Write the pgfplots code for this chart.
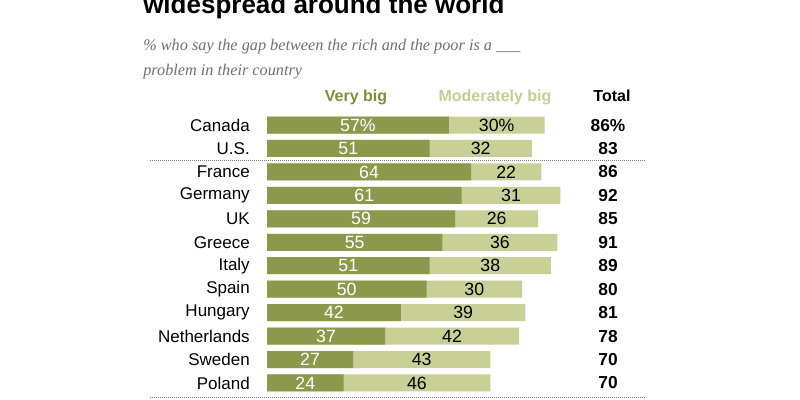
\documentclass[border=0pt]{standalone}
\usepackage{pgfplots}
\pgfplotsset{compat=1.18}
\usepackage{pgfplotstable}
\usepackage{fontspec}
\setmainfont{Liberation Sans}
\newfontfamily\serifit{Liberation Serif}
\definecolor{darkg}{RGB}{140,152,76}
\definecolor{lightg}{RGB}{200,208,152}
\definecolor{hdark}{RGB}{128,142,58}
\definecolor{hlight}{RGB}{196,206,150}
\definecolor{subgray}{RGB}{112,112,112}

\pgfplotstableread{
row vb mb total
0 57 30 86
1 51 32 83
2 64 22 86
3 61 31 92
4 59 26 85
5 55 36 91
6 51 38 89
7 50 30 80
8 42 39 81
9 37 42 78
10 27 43 70
11 24 46 70
}\datatable

\begin{document}
\begin{tikzpicture}
\useasboundingbox (0,0) rectangle (600pt,-300pt);
\clip (0,0) rectangle (600pt,-300pt);
\node[anchor=base west, inner sep=0pt, font=\bfseries\fontsize{19.5}{22}\selectfont] at (107.25pt,-9.75pt) {widespread around the world};
\node[anchor=base west, inner sep=0pt, text=subgray, font=\serifit\itshape\fontsize{12.2}{14}\selectfont] at (107.25pt,-37.5pt) {\% who say the gap between the rich and the poor is a \_\_\_};
\node[anchor=base west, inner sep=0pt, text=subgray, font=\serifit\itshape\fontsize{12.2}{14}\selectfont] at (107.25pt,-56.25pt) {problem in their country};

\node[anchor=base, inner sep=0pt, text=hdark, font=\bfseries\fontsize{12}{14}\selectfont] at (267pt,-75.75pt) {Very big};
\node[anchor=base, inner sep=0pt, text=hlight, font=\bfseries\fontsize{12}{14}\selectfont] at (371.25pt,-75.75pt) {Moderately big};
\node[anchor=base, inner sep=0pt, text=black, font=\bfseries\fontsize{12}{14}\selectfont] at (459pt,-75.75pt) {Total};

\draw[gray, line width=0.6pt, dash pattern=on 0.6pt off 0.9pt] (112.5pt,-120pt) -- (483.75pt,-120pt);
\draw[gray, line width=0.6pt, dash pattern=on 0.6pt off 0.9pt] (112.5pt,-297.75pt) -- (483.75pt,-297.75pt);

\begin{axis}[
  at={(200.25pt,-84.98pt)}, anchor=north west,
  scale only axis, width=239.25pt, height=211.05pt,
  xmin=0, xmax=100, ymin=-0.5, ymax=11.5, y dir=reverse,
  axis line style={draw=none}, xtick=\empty,
  ytick={0,...,11},
  yticklabels={Canada,U.S.,France,Germany,UK,Greece,Italy,Spain,Hungary,Netherlands,Sweden,Poland},
  major tick length=0pt,
  yticklabel style={font=\fontsize{12.75}{14}\selectfont, inner sep=0pt, anchor=east, xshift=-12.75pt},
  /pgf/number format/assume math mode=true,
  clip=false,
]
\addplot[xbar, bar width=12.75pt, bar shift=0pt, fill=lightg, draw=none] table[x expr=\thisrow{vb}+\thisrow{mb}, y=row]{\datatable};
\addplot[xbar, bar width=12.75pt, bar shift=0pt, fill=darkg, draw=none] table[x=vb, y=row]{\datatable};
\addplot[draw=none, mark=none, point meta=explicit,
  nodes near coords={\pgfmathprintnumber{\pgfplotspointmeta}\ifnum\coordindex=0\%\fi},
  nodes near coords align=center,
  every node near coord/.append style={text=white, anchor=center, inner sep=0pt, font=\fontsize{13.3}{15}\selectfont}]
  table[x expr=\thisrow{vb}/2, y=row, meta=vb]{\datatable};
\addplot[draw=none, mark=none, point meta=explicit,
  nodes near coords={\pgfmathprintnumber{\pgfplotspointmeta}\ifnum\coordindex=0\%\fi},
  nodes near coords align=center,
  every node near coord/.append style={text=black, anchor=center, inner sep=0pt, font=\fontsize{13.3}{15}\selectfont}]
  table[x expr=\thisrow{vb}+\thisrow{mb}/2, y=row, meta=mb]{\datatable};
\addplot[draw=none, mark=none, point meta=explicit,
  nodes near coords={\pgfmathprintnumber{\pgfplotspointmeta}\ifnum\coordindex=0\%\fi},
  nodes near coords align=center,
  every node near coord/.append style={text=black, anchor=center, inner sep=0pt, font=\bfseries\fontsize{13}{15}\selectfont}]
  table[x expr=106.9, y=row, meta=total]{\datatable};
\end{axis}
\end{tikzpicture}
\end{document}
